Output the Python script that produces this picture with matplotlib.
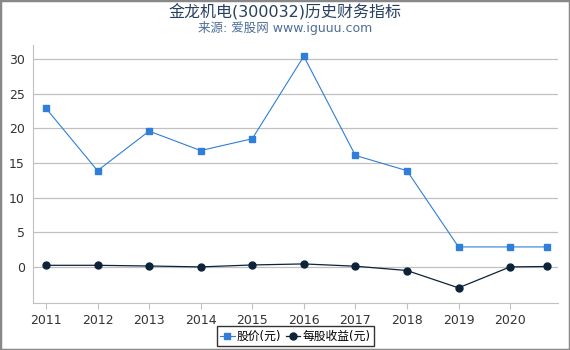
import matplotlib
matplotlib.use("Agg")
import matplotlib.pyplot as plt
from matplotlib.patches import Rectangle

plt.rcParams['font.family'] = ['DejaVu Sans', 'Noto Sans CJK SC']

years = [2011, 2012, 2013, 2014, 2015, 2016, 2017, 2018, 2019, 2020, 2020.72]
price = [22.9, 13.9, 19.6, 16.8, 18.5, 30.4, 16.1, 13.9, 2.9, 2.9, 2.9]
eps = [0.25, 0.25, 0.15, 0.02, 0.3, 0.45, 0.12, -0.5, -3.0, 0.02, 0.08]
xticks = [2011, 2012, 2013, 2014, 2015, 2016, 2017, 2018, 2019, 2020]
yticks = [0, 5, 10, 15, 20, 25, 30]

fig = plt.figure(figsize=(5.7, 3.5), dpi=100)
ax = fig.add_axes([0.058, 0.134, 0.921, 0.737])

ax.plot(years, price, color="#2f7ed8", lw=0.8, marker="s", ms=5, label="股价(元)")
ax.plot(years, eps, color="#0d233a", lw=0.9, marker="o", ms=5, label="每股收益(元)")

ax.set_xlim(2010.75, 2020.93)
ax.set_ylim(-5.2, 32)
ax.set_xticks(xticks)
ax.set_xticklabels([str(x) for x in xticks])
ax.set_yticks(yticks)
ax.grid(axis="y", color="#c0c0c0", lw=0.9)
ax.set_axisbelow(True)
for s in ["top", "right"]:
    ax.spines[s].set_visible(False)
for s in ["left", "bottom"]:
    ax.spines[s].set_color("#c0c0c0")
ax.tick_params(axis="x", colors="#c0c0c0", labelcolor="#333333", labelsize=9, length=4)
ax.tick_params(axis="y", length=0, labelcolor="#333333", labelsize=9, pad=6)

fig.text(0.5, 0.965, "金龙机电(300032)历史财务指标", ha="center", va="center",
         fontsize=11.5, color="#274060")
fig.text(0.5, 0.92, "来源: 爱股网 www.iguuu.com", ha="center", va="center",
         fontsize=9, color="#4d6d99")

leg = ax.legend(loc="upper center", bbox_to_anchor=(0.5, -0.08), ncol=2,
                frameon=True, fancybox=False, fontsize=8.5, handlelength=1.2,
                handletextpad=0.2, columnspacing=0.4, borderpad=0.3,
                borderaxespad=0.2)
leg.get_frame().set_edgecolor("black")
leg.get_frame().set_linewidth(1)

fig.patches.append(Rectangle((0, 0), 1, 1, transform=fig.transFigure, fill=False,
                             edgecolor="#888888", lw=2.5))

fig.savefig("out.png", dpi=100)
